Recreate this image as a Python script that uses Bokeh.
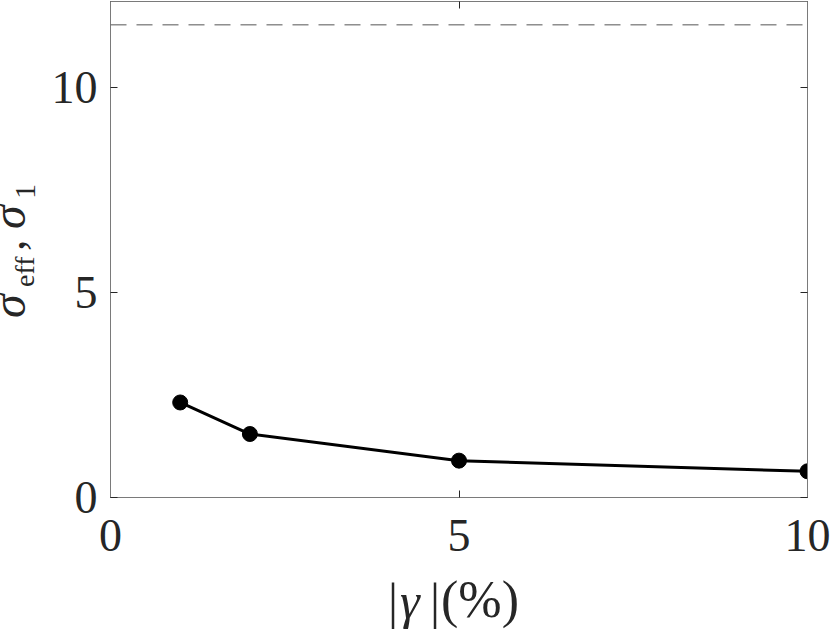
from bokeh.plotting import figure
from bokeh.models import Range1d, LinearAxis, FixedTicker, Span, Div
from bokeh.layouts import row, column
from bokeh.embed import file_html
from bokeh.resources import INLINE

# ---- data ----
gamma_pct = [1, 2, 5, 10]
sigma_vals = [2.32, 1.55, 0.90, 0.64]
limit_level = 11.54
x_ticks = [0, 5, 10]
y_ticks = [0, 5, 10]
x_lim = (0, 10)
y_lim = (0, 12.11)

# axis-title pieces: (text, italic?, font px, along-offset px, top px)
y_title = [("σ", True, 48, 0, 0),
           ("eff", False, 28, 31, 16),
           (",", False, 46, 67, 0),
           ("σ", True, 48, 89, 0),
           ("1", False, 30, 119, 16)]
x_title = [("|", False, 50, 388, -1),
           ("γ", True, 50, 400, -1),
           ("|", False, 50, 430, -1),
           ("(%)", False, 52, 441, -2)]

FONT = "Liberation Serif"
TXT = "#262626"
AX = "#7a7a7a"

W_LEFT = 40
W_MAIN = 830 - W_LEFT
H_MAIN = 580
H_BOTTOM = 631 - H_MAIN

p = figure(width=W_MAIN, height=H_MAIN, output_backend="svg", toolbar_location=None,
           x_range=Range1d(*x_lim), y_range=Range1d(*y_lim),
           min_border_left=110 - W_LEFT, min_border_right=23, min_border_top=1,
           min_border_bottom=H_MAIN - 497)
p.grid.visible = False
p.outline_line_color = AX
p.outline_line_width = 1
p.background_fill_color = "white"
p.border_fill_color = "white"


def style_axis(ax, ticks, show_labels=True):
    ax.ticker = FixedTicker(ticks=ticks)
    ax.major_tick_in = 7
    ax.major_tick_out = 0
    ax.minor_tick_line_color = None
    ax.axis_line_color = AX
    ax.major_tick_line_color = TXT
    ax.major_label_text_font = FONT
    ax.major_label_text_color = TXT
    ax.major_label_text_font_size = "46px"
    if not show_labels:
        ax.major_label_overrides = {t: "" for t in ticks}
        ax.major_label_standoff = 0


style_axis(p.xaxis[0], x_ticks)
style_axis(p.yaxis[0], y_ticks)
p.xaxis[0].major_label_standoff = 22
p.yaxis[0].major_label_standoff = 13

top_ax = LinearAxis()
style_axis(top_ax, x_ticks, show_labels=False)
p.add_layout(top_ax, "above")
right_ax = LinearAxis()
style_axis(right_ax, y_ticks, show_labels=False)
p.add_layout(right_ax, "right")

# dashed reference level
p.add_layout(Span(location=limit_level, dimension="width", line_color="#555555",
                  line_width=1, line_dash="16 10"))

p.line(gamma_pct, sigma_vals, line_color="black", line_width=3)
p.scatter(gamma_pct, sigma_vals, size=15, fill_color="black", line_color="black")


def pieces_html(parts):
    out = []
    for txt, ital, size, along, top in parts:
        tag = "i" if ital else "span"
        out.append(f'<{tag} style="position:absolute;left:{along}px;top:{top}px;'
                   f'font-size:{size}px;font-style:{"italic" if ital else "normal"};">{txt}</{tag}>')
    return "".join(out)


base = (f"font-family:'{FONT}',serif;color:{TXT};line-height:20px;white-space:nowrap;")

# y title: rotated block; its start sits at page y=318, baseline near page x=24
y_html = (f'<div style="position:relative;width:{W_LEFT}px;height:{H_MAIN}px;overflow:visible;">'
          f'<div style="position:absolute;left:-1px;top:318px;width:200px;height:20px;'
          f'transform-origin:0 0;transform:rotate(-90deg);{base}">'
          f'{pieces_html(y_title)}</div></div>')
x_html = (f'<div style="position:relative;width:830px;height:{H_BOTTOM}px;overflow:visible;">'
          f'<div style="position:absolute;left:0px;top:12px;width:830px;height:20px;{base}">'
          f'{pieces_html(x_title)}</div></div>')

y_div = Div(text=y_html, width=W_LEFT, height=H_MAIN, margin=0)
x_div = Div(text=x_html, width=830, height=H_BOTTOM, margin=0)

layout = column(row(y_div, p, spacing=0), x_div, spacing=0)
open("out.html", "w").write(file_html(layout, INLINE))
